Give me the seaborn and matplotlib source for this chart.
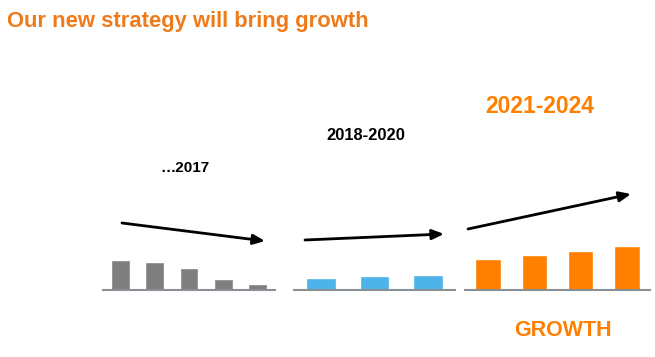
import matplotlib
matplotlib.use("Agg")
import matplotlib.pyplot as plt
import seaborn as sns
import pandas as pd

# ---- data ----
past_labels = ["p1", "p2", "p3", "p4", "p5"]
past_values = [30, 28, 22, 11, 6]
mid_labels = ["2018", "2019", "2020"]
mid_values = [12, 14, 15]
future_labels = ["2021", "2022", "2023", "2024"]
future_values = [31, 35, 39, 44]

title = "Our new strategy will bring growth"
period_labels = ["\u20262017", "2018-2020", "2021-2024"]
growth_label = "GROWTH"

GRAY = "#7f7f7f"
BLUE = "#4db3e8"
ORANGE = "#ff7f00"
TITLE_ORANGE = "#ef7a1a"

sns.set_theme(style="white")
plt.rcParams["font.family"] = ["Liberation Sans", "DejaVu Sans"]

W, H = 655, 357
fig = plt.figure(figsize=(W / 100, H / 100), dpi=100)


def fx(x):
    return x / W


def fy(y):
    return 1 - y / H


def add_group(left, right, labels, values, color):
    ax = fig.add_axes([fx(left), fy(290), fx(right - left), 100 / H])
    df = pd.DataFrame({"cat": labels, "val": values})
    sns.barplot(data=df, x="cat", y="val", color=color, saturation=1,
                width=0.55, ax=ax)
    ax.set_xlim(-0.5, len(labels) - 0.5)
    ax.set_ylim(0, 100)
    for s in ["top", "right", "left"]:
        ax.spines[s].set_visible(False)
    ax.spines["bottom"].set_color("#8a8f96")
    ax.spines["bottom"].set_linewidth(1.5)
    ax.set_xticks([])
    ax.set_yticks([])
    ax.set_xlabel("")
    ax.set_ylabel("")
    ax.patch.set_alpha(0)
    return ax


add_group(103, 275, past_labels, past_values, GRAY)
add_group(294, 455, mid_labels, mid_values, BLUE)
add_group(465, 650, future_labels, future_values, ORANGE)

# trend arrows
arrows = [((122, 223), (265, 241)), ((305, 240), (444, 234)), ((468, 229), (631, 194))]
for (x0, y0), (x1, y1) in arrows:
    fig.add_artist(matplotlib.patches.FancyArrowPatch(
        (fx(x0), fy(y0)), (fx(x1), fy(y1)), transform=fig.transFigure,
        arrowstyle="-|>,head_length=7,head_width=3", mutation_scale=1,
        shrinkA=0, shrinkB=0, color="black", lw=2))

fig.text(fx(7), fy(22), title, color=TITLE_ORANGE, fontsize=15.8,
         fontweight="bold", ha="left", va="center")
fig.text(fx(185), fy(168), period_labels[0], color="black", fontsize=11,
         fontweight="bold", ha="center", va="center")
fig.text(fx(366), fy(135), period_labels[1], color="black", fontsize=11.9,
         fontweight="bold", ha="center", va="center")
fig.text(fx(540), fy(106), period_labels[2], color=ORANGE, fontsize=16.5,
         fontweight="bold", ha="center", va="center")
fig.text(fx(563), fy(331), growth_label, color=ORANGE, fontsize=15.5,
         fontweight="bold", ha="center", va="center")

fig.savefig("out.png", dpi=100)
